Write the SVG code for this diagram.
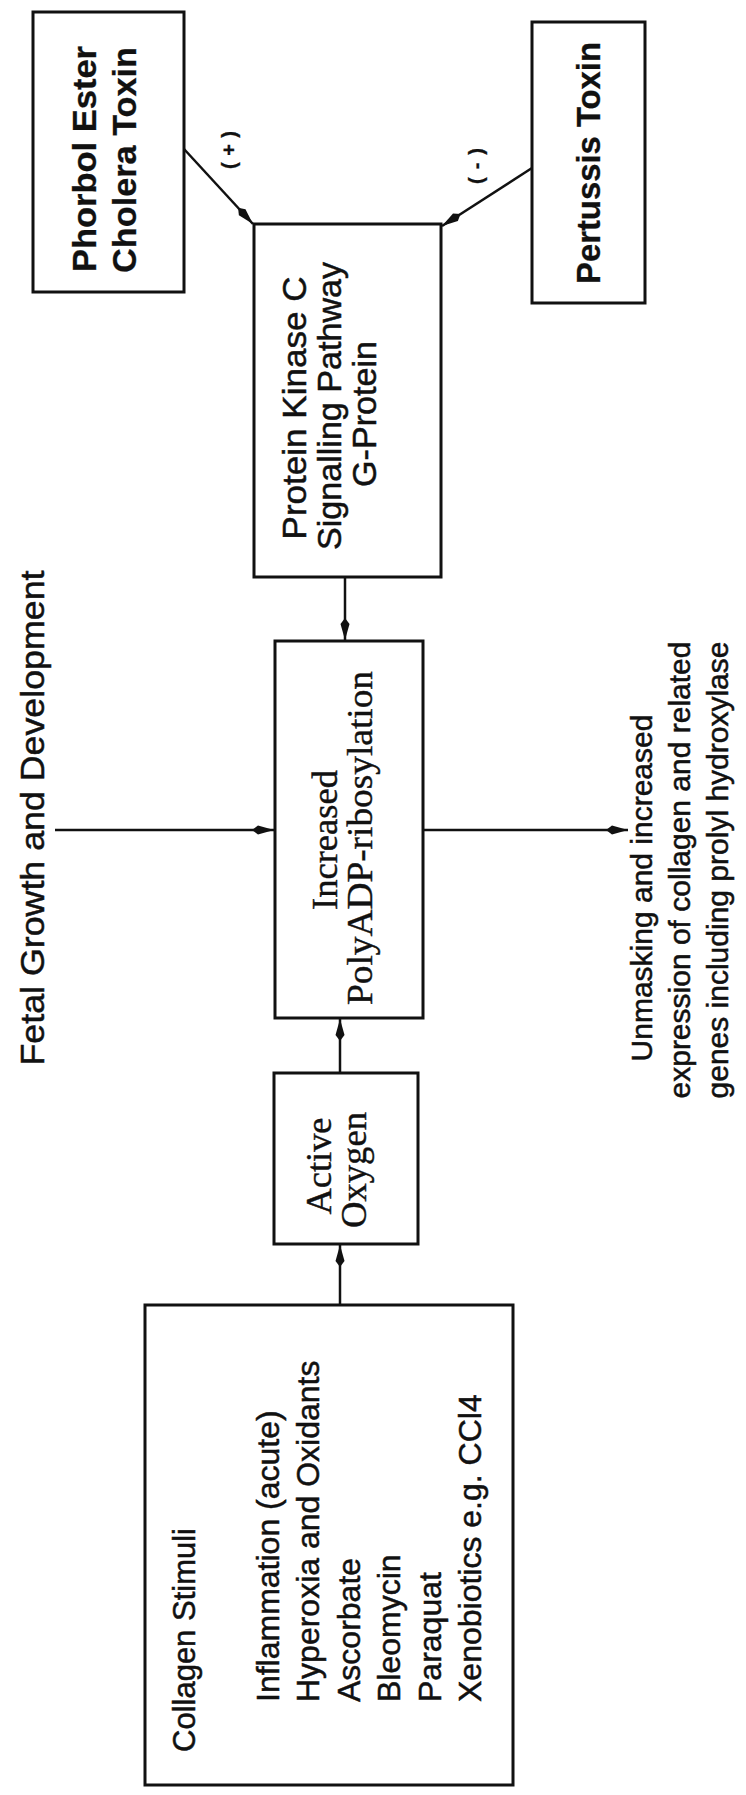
<svg xmlns="http://www.w3.org/2000/svg" width="746" height="1795" viewBox="0 0 746 1795">
<defs>
<marker id="ah" markerUnits="userSpaceOnUse" markerWidth="24" markerHeight="12" refX="22" refY="6" orient="auto">
<path d="M0,6 L6,1.5 L22,6 L6,10.5 Z" fill="#111"/>
</marker>
<style>
.box{fill:#fff;stroke:#111;stroke-width:3}
.conn{fill:none;stroke:#111;stroke-width:2.5}
.s{font-family:"Liberation Sans",Arial,sans-serif;fill:#111;stroke:#111;stroke-width:0.5;text-anchor:middle}
.b{font-weight:bold;stroke-width:0.3}
.r{font-family:"Liberation Serif","Times New Roman",serif;fill:#111;stroke:#111;stroke-width:0.4;text-anchor:middle}
.l{text-anchor:start}
</style>
</defs>
<rect width="746" height="1795" fill="#fff"/>
<g id="connectors">
<path class="conn" d="M184,149 L253,224" marker-end="url(#ah)"/>
<path class="conn" d="M532,168 L442,226" marker-end="url(#ah)"/>
<path class="conn" d="M345,578 L345,640" marker-end="url(#ah)"/>
<path class="conn" d="M55,830 L274,830" marker-end="url(#ah)"/>
<path class="conn" d="M423,830 L628,830" marker-end="url(#ah)"/>
<path class="conn" d="M340,1073 L340,1019" marker-end="url(#ah)"/>
<path class="conn" d="M340,1305 L340,1245" marker-end="url(#ah)"/>
<text class="s b" font-size="20" transform="translate(236,150) rotate(-90)" textLength="38" lengthAdjust="spacing">(+)</text>
<text class="s b" font-size="20" transform="translate(483,166) rotate(-90)" textLength="36" lengthAdjust="spacing">(-)</text>
</g>
<g id="phorbol">
<rect class="box" x="33" y="12" width="151" height="280"/>
<text class="s b" font-size="33" transform="translate(96,159) rotate(-90)" textLength="226" lengthAdjust="spacingAndGlyphs">Phorbol Ester</text>
<text class="s b" font-size="33" transform="translate(136,160) rotate(-90)" textLength="226" lengthAdjust="spacingAndGlyphs">Cholera Toxin</text>
</g>
<g id="pertussis">
<rect class="box" x="532" y="22" width="113" height="281"/>
<text class="s b" font-size="33" transform="translate(600,163) rotate(-90)" textLength="242" lengthAdjust="spacingAndGlyphs">Pertussis Toxin</text>
</g>
<g id="pkc">
<rect class="box" x="254" y="224" width="187" height="353"/>
<text class="s" font-size="33" transform="translate(306,408) rotate(-90)" textLength="263" lengthAdjust="spacingAndGlyphs">Protein Kinase C</text>
<text class="s" font-size="33" transform="translate(341,406) rotate(-90)" textLength="288" lengthAdjust="spacingAndGlyphs">Signalling Pathway</text>
<text class="s" font-size="33" transform="translate(376,414) rotate(-90)" textLength="146" lengthAdjust="spacingAndGlyphs">G-Protein</text>
</g>
<g id="polyadp">
<rect class="box" x="275" y="641" width="148" height="377"/>
<text class="r" font-size="36" transform="translate(337,840) rotate(-90)" textLength="140" lengthAdjust="spacingAndGlyphs">Increased</text>
<text class="r" font-size="36" transform="translate(372,838) rotate(-90)" textLength="334" lengthAdjust="spacingAndGlyphs">PolyADP-ribosylation</text>
</g>
<g id="active-oxygen">
<rect class="box" x="274" y="1073" width="144" height="171"/>
<text class="r" font-size="35" transform="translate(331,1166) rotate(-90)" textLength="97" lengthAdjust="spacingAndGlyphs">Active</text>
<text class="r" font-size="35" transform="translate(366,1170) rotate(-90)" textLength="116" lengthAdjust="spacingAndGlyphs">Oxygen</text>
</g>
<g id="fetal">
<text class="s" font-size="34" transform="translate(44,818) rotate(-90)" textLength="495" lengthAdjust="spacingAndGlyphs">Fetal Growth and Development</text>
</g>
<g id="unmasking">
<text class="s" font-size="30" transform="translate(652,888) rotate(-90)">Unmasking and increased</text>
<text class="s" font-size="30" transform="translate(690,870) rotate(-90)">expression of collagen and related</text>
<text class="s" font-size="30" transform="translate(728,870) rotate(-90)">genes including prolyl hydroxylase</text>
</g>
<g id="collagen-stimuli">
<rect class="box" x="145" y="1305" width="368" height="480"/>
<text class="s l" font-size="31" transform="translate(195,1752) rotate(-90)">Collagen Stimuli</text>
<text class="s l" font-size="32" transform="translate(279,1702) rotate(-90)">Inflammation (acute)</text>
<text class="s l" font-size="32" transform="translate(319,1702) rotate(-90)">Hyperoxia and Oxidants</text>
<text class="s l" font-size="32" transform="translate(360,1702) rotate(-90)">Ascorbate</text>
<text class="s l" font-size="32" transform="translate(400,1702) rotate(-90)">Bleomycin</text>
<text class="s l" font-size="32" transform="translate(441,1702) rotate(-90)">Paraquat</text>
<text class="s l" font-size="32" transform="translate(481,1702) rotate(-90)">Xenobiotics e.g. CCl4</text>
</g>
</svg>
